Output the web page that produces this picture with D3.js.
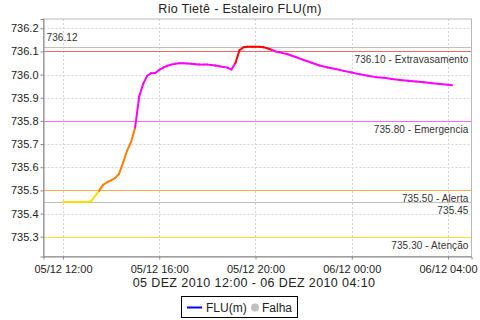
<!DOCTYPE html>
<html>
<head>
<meta charset="utf-8">
<title>Rio Tietê - Estaleiro FLU(m)</title>
<style>
body { margin: 0; background: #fff; }
svg { display: block; font-family: "Liberation Sans", Arial, sans-serif; }
</style>
</head>
<body>
<svg id="chart" width="480" height="320"></svg>
<script src="https://d3js.org/d3.v7.min.js"></script>
<script>
// leituras do nivel (hora, valor)
var times = [
  "05 12:00","05 12:20","05 12:40","05 13:00","05 13:10","05 13:20","05 13:30","05 13:40","05 13:50",
  "05 14:00","05 14:10","05 14:20","05 14:30","05 14:40","05 14:50","05 15:00","05 15:10","05 15:20",
  "05 15:30","05 15:40","05 15:50","05 16:00","05 16:10","05 16:20","05 16:30","05 16:40","05 16:50",
  "05 17:00","05 17:10","05 17:20","05 17:30","05 17:40","05 17:50","05 18:00","05 18:10","05 18:20",
  "05 18:30","05 18:40","05 18:50","05 19:00","05 19:10","05 19:20","05 19:30","05 19:40","05 19:50",
  "05 20:00","05 20:10","05 20:20","05 20:30","05 20:40","05 20:50","05 21:00","05 21:20","05 21:40",
  "05 22:00","05 22:20","05 22:40","05 23:00","05 23:20","05 23:40","06 00:00","06 00:20","06 00:40",
  "06 01:00","06 01:20","06 01:40","06 02:00","06 02:20","06 02:40","06 03:00","06 03:20","06 03:40",
  "06 04:00","06 04:10"
];
var levels = [
  735.450,735.450,735.450,735.450,735.453,735.475,735.498,735.524,735.535,
  735.543,735.553,735.572,735.620,735.672,735.710,735.772,735.905,735.960,
  735.995,736.006,736.007,736.020,736.030,736.038,736.043,736.047,736.049,
  736.049,736.048,736.047,736.045,736.044,736.043,736.043,736.041,736.039,
  736.036,736.033,736.030,736.022,736.050,736.105,736.118,736.120,736.120,
  736.120,736.120,736.118,736.113,736.107,736.100,736.096,736.088,736.076,
  736.063,736.051,736.039,736.031,736.024,736.016,736.009,736.001,735.995,
  735.989,735.986,735.981,735.977,735.973,735.970,735.967,735.963,735.959,
  735.956,735.954
];

// cotas de referencia
var refValues = [736.12, 736.10, 735.80, 735.50, 735.45, 735.30];
var refLabels = ["736.12", "736.10 - Extravasamento", "735.80 - Emergencia", "735.50 - Alerta", "735.45", "735.30 - Atenção"];
var refColors = ["#c0c0c0", "#f06868", "#ff66ff", "#ffa850", "#c0c0c0", "#ffe030"];

var yTicks = [735.3, 735.4, 735.5, 735.6, 735.7, 735.8, 735.9, 736.0, 736.1, 736.2];
var xTickLabels = ["05/12 12:00", "05/12 16:00", "05/12 20:00", "06/12 00:00", "06/12 04:00"];

var parse = d3.timeParse("%d %H:%M");
var data = times.map(function(t, i) {
  return { t: parse(t), v: levels[i] };
});

var svg = d3.select("#chart");
var pLeft = 43.5, pRight = 471.5, pTop = 19, pBottom = 256.5;

var t0 = data[0].t, t1 = data[data.length - 1].t;
var pad = (t1 - t0) * 0.05;
var x = d3.scaleTime()
  .domain([new Date(+t0 - pad), new Date(+t1 + pad)])
  .range([pLeft, pRight]);
var y = d3.scaleLinear()
  .domain([735.2145, 736.240])
  .range([pBottom, pTop]);

var xTicks = xTickLabels.map(function(s) {
  var p = s.split(" ");
  return parse(p[0].slice(0, 2) + " " + p[1]);
});

// grade
var grid = svg.append("g");
grid.selectAll(".gx").data(xTicks).enter().append("line")
  .attr("x1", function(d) { return Math.round(x(d)) + 0.5; })
  .attr("x2", function(d) { return Math.round(x(d)) + 0.5; })
  .attr("y1", pTop).attr("y2", pBottom)
  .attr("stroke", "#d4d4d4").attr("stroke-dasharray", "2,2");
grid.selectAll(".gy").data(yTicks).enter().append("line")
  .attr("x1", pLeft).attr("x2", pRight)
  .attr("y1", function(d) { return Math.round(y(d)) + 0.5; })
  .attr("y2", function(d) { return Math.round(y(d)) + 0.5; })
  .attr("stroke", "#d4d4d4").attr("stroke-dasharray", "2,2");

// linhas de referencia
var refs = svg.append("g");
refs.selectAll("line").data(refValues).enter().append("line")
  .attr("x1", pLeft).attr("x2", pRight)
  .attr("y1", function(d) { return Math.round(y(d)) + 0.5; })
  .attr("y2", function(d) { return Math.round(y(d)) + 0.5; })
  .style("stroke", function(d, i) { return refColors[i]; })
  .style("stroke-width", 1);

refs.selectAll("text").data(refValues).enter().append("text")
  .attr("x", function(d, i) { return i === 0 ? pLeft + 3 : pRight - 3; })
  .attr("y", function(d, i) { return i === 0 ? y(d) - 6 : y(d) + 12; })
  .attr("text-anchor", function(d, i) { return i === 0 ? "start" : "end"; })
  .attr("font-size", 10)
  .attr("letter-spacing", 0.1)
  .attr("fill", "#333")
  .text(function(d, i) { return refLabels[i]; });

// serie colorida pela faixa
function cor(v) {
  if (v > 736.10) return "#ff0000";
  if (v > 735.80) return "#ff00ff";
  if (v >= 735.50) return "#ff8000";
  return "#ffdd00";
}
var line = d3.line().x(function(d) { return x(d.t); }).y(function(d) { return y(d.v); });
var segs = d3.pairs(data);
svg.append("g").selectAll("path").data(segs).enter().append("path")
  .attr("d", function(d) { return line(d); })
  .attr("fill", "none")
  .attr("stroke", function(d) { return cor(d[1].v); })
  .attr("stroke-width", 2)
  .attr("stroke-linecap", "round");

// eixos
var xAxis = d3.axisBottom(x).tickValues(xTicks).tickSize(3)
  .tickFormat(function(d, i) { return xTickLabels[i]; });
var yAxis = d3.axisLeft(y).tickValues(yTicks).tickSize(3).tickFormat(d3.format(".1f"));

svg.append("rect").attr("x", pLeft).attr("y", pTop)
  .attr("width", pRight - pLeft).attr("height", pBottom - pTop)
  .attr("fill", "none").attr("stroke", "#b8b8b8");

var gx = svg.append("g").attr("transform", "translate(0," + pBottom + ")").call(xAxis);
var gy = svg.append("g").attr("transform", "translate(" + pLeft + ",0)").call(yAxis);
[gx, gy].forEach(function(g) {
  g.select(".domain").attr("stroke", "#888");
  g.selectAll(".tick line").attr("stroke", "#888");
  g.selectAll("text").attr("font-family", "Liberation Sans, Arial, sans-serif")
    .attr("font-size", 11).attr("fill", "#222");
});
gx.selectAll("text").attr("dy", "0.95em");
gy.selectAll("text").attr("x", -5);

// titulo e rotulo
svg.append("text").attr("x", 240).attr("y", 13).attr("text-anchor", "middle")
  .attr("font-size", 12.5).attr("letter-spacing", 0.3).attr("fill", "#222")
  .text("Rio Tietê - Estaleiro FLU(m)");
svg.append("text").attr("x", 254).attr("y", 287).attr("text-anchor", "middle")
  .attr("font-size", 12.5).attr("letter-spacing", 0.4).attr("fill", "#222")
  .text("05 DEZ 2010 12:00 - 06 DEZ 2010 04:10");

// legenda
var lg = svg.append("g");
lg.append("rect").attr("x", 181.5).attr("y", 296.5).attr("width", 116).attr("height", 21)
  .attr("fill", "#fff").attr("stroke", "#000");
lg.append("line").attr("x1", 187).attr("x2", 202).attr("y1", 307.5).attr("y2", 307.5)
  .attr("stroke", "#0000ff").attr("stroke-width", 2);
lg.append("text").attr("x", 206).attr("y", 312).attr("font-size", 12).attr("fill", "#222").text("FLU(m)");
lg.append("circle").attr("cx", 255).attr("cy", 307.5).attr("r", 4).attr("fill", "#c0c0c0");
lg.append("text").attr("x", 262).attr("y", 312).attr("font-size", 12).attr("fill", "#222").text("Falha");
</script>
</body>
</html>
